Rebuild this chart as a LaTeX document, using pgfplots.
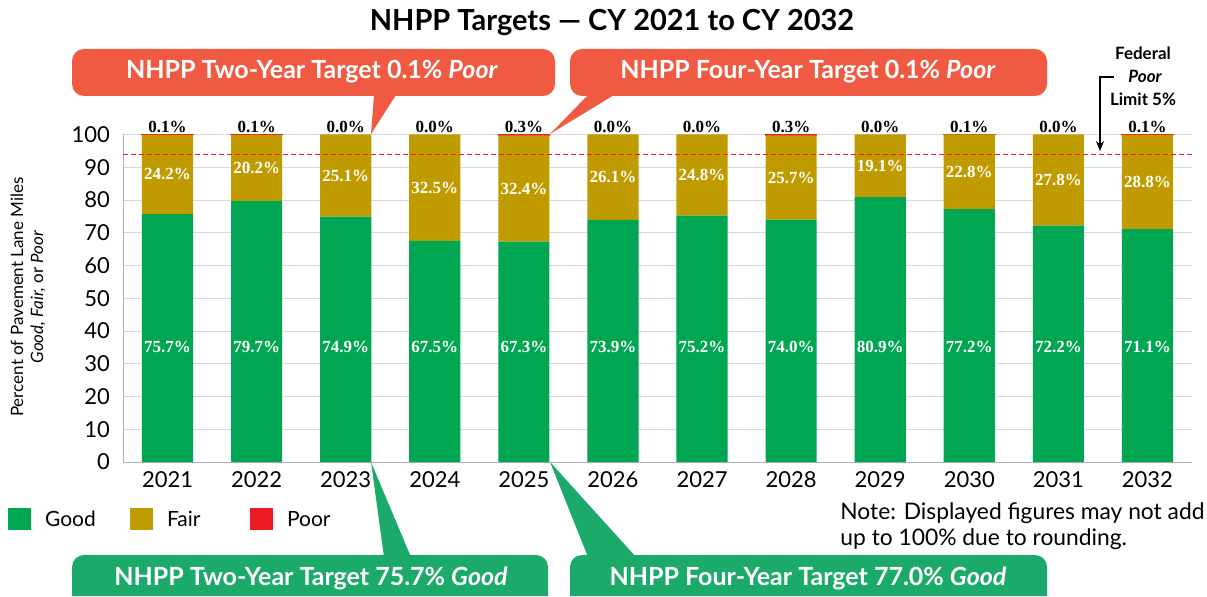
\documentclass[border=0pt]{standalone}
\usepackage{pgfplots}
\pgfplotsset{compat=1.18}
\usepackage{pgfplotstable}
\usepackage{fontspec}
\setmainfont{Lato}
\newfontfamily\labfont{Liberation Serif}
\usetikzlibrary{arrows.meta}
\definecolor{good}{HTML}{00A651}
\definecolor{fair}{HTML}{BF9B00}
\definecolor{poor}{HTML}{ED1C24}
\definecolor{callred}{HTML}{F15A42}
\definecolor{callgreen}{HTML}{1BAA6A}
\pgfplotstableread{
x good fair poor
0 75.7 24.2 0.1
1 79.7 20.2 0.1
2 74.9 25.1 0.0
3 67.5 32.5 0.0
4 67.3 32.4 0.3
5 73.9 26.1 0.0
6 75.2 24.8 0.0
7 74.0 25.7 0.3
8 80.9 19.1 0.0
9 77.2 22.8 0.1
10 72.2 27.8 0.0
11 71.1 28.8 0.1
}\data
\pgfplotsset{common/.style={
  at={(61.5pt,-231pt)}, anchor=south west, scale only axis,
  width=534.5pt, height=163.75pt,
  xmin=-0.5, xmax=11.5, ymin=0, ymax=100, clip=false,
  /pgf/number format/assume math mode=true},
  lab/.style={only marks, mark=none, point meta=explicit,
  nodes near coords={\pgfmathprintnumber[fixed,fixed zerofill,precision=1]{\pgfplotspointmeta}\%}}}
\begin{document}
\begin{tikzpicture}
\begin{scope}[x=0.5pt,y=-0.5pt]
\useasboundingbox (0,0) rectangle (1207,596);
\end{scope}
\begin{axis}[common,
  ybar stacked, bar width=0.575,
  axis x line*=bottom, axis y line*=left,
  axis line style={draw=black!30,-},
  ymajorgrids, grid style={draw=black!15},
  major tick length=0pt,
  ytick={0,10,...,100},
  xtick={0,...,11},
  xticklabels={2021,2022,2023,2024,2025,2026,2027,2028,2029,2030,2031,2032},
  ticklabel style={font=\fontsize{11}{12}\selectfont},
  yticklabel style={xshift=-3pt},
  xticklabel style={yshift=-1pt},
]
\addplot[fill=good, draw=none] table[x=x,y=good] \data;
\addplot[fill=fair, draw=none] table[x=x,y=fair] \data;
\addplot[fill=poor, draw=poor, line width=0.6pt] table[x=x,y=poor] \data;
\end{axis}
\begin{axis}[common, hide axis]
\addplot[lab,
  every node near coord/.append style={anchor=center, text=white, font=\labfont\bfseries\fontsize{8.5}{10}\selectfont}]
  table[x=x, y expr=35, meta=good] \data;
\addplot[lab,
  every node near coord/.append style={anchor=center, text=white, font=\labfont\bfseries\fontsize{8.5}{10}\selectfont}]
  table[x=x, y expr=\thisrow{good}+\thisrow{fair}/2, meta=fair] \data;
\addplot[lab,
  every node near coord/.append style={anchor=south, inner sep=0.6pt, text=black, font=\labfont\bfseries\fontsize{8.5}{9}\selectfont}]
  table[x=x, y expr=\thisrow{good}+\thisrow{fair}+\thisrow{poor}, meta=poor] \data;
\addplot[poor, line width=0.5pt, dash pattern=on 2.5pt off 1.5pt, mark=none] coordinates {(-0.5,94) (11.5,94)};
\end{axis}
\begin{scope}[x=0.5pt,y=-0.5pt]
% title
\node[font=\bfseries\fontsize{14.5}{16}\selectfont] at (612,23) {NHPP Targets — CY 2021 to CY 2032};
% y label
\node[rotate=90, align=center, font=\fontsize{8.5}{10}\selectfont] at (28,297) {Percent of Pavement Lane Miles\\\textit{Good, Fair,} or \textit{Poor}};
% red callouts
\fill[callred, rounded corners=6pt] (72,49) rectangle (555,96);
\fill[callred] (374,95) -- (371,134) -- (396,95) -- cycle;
\node[text=white, font=\bfseries\fontsize{12.5}{14}\selectfont] at (312,72) {NHPP Two-Year Target 0.1\% \textit{Poor}};
\fill[callred, rounded corners=6pt] (570,49) rectangle (1047,96);
\fill[callred] (588,95) -- (550,134) -- (614,95) -- cycle;
\node[text=white, font=\bfseries\fontsize{12.5}{14}\selectfont] at (808,72) {NHPP Four-Year Target 0.1\% \textit{Poor}};
% green callouts
\fill[callgreen] (72,596) [rounded corners=6pt] -- (72,555) -- (548,555) [sharp corners] -- (548,596) -- cycle;
\fill[callgreen] (371,462) -- (384,557) -- (411,557) -- cycle;
\node[text=white, font=\bfseries\fontsize{12.5}{14}\selectfont] at (311,578) {NHPP Two-Year Target 75.7\% \textit{Good}};
\fill[callgreen] (570,596) [rounded corners=6pt] -- (570,555) -- (1047,555) [sharp corners] -- (1047,596) -- cycle;
\fill[callgreen] (550,462) -- (588,557) -- (636,557) -- cycle;
\node[text=white, font=\bfseries\fontsize{12.5}{14}\selectfont] at (808,578) {NHPP Four-Year Target 77.0\% \textit{Good}};
% legend
\fill[good] (8,508) rectangle (31,530);
\node[anchor=west, font=\fontsize{10.5}{12}\selectfont] at (38,519) {Good};
\fill[fair] (130,508) rectangle (153,530);
\node[anchor=west, font=\fontsize{10.5}{12}\selectfont] at (160,519) {Fair};
\fill[poor] (250,508) rectangle (273,530);
\node[anchor=west, font=\fontsize{10.5}{12}\selectfont] at (280,519) {Poor};
% note
\node[anchor=west, align=left, font=\fontsize{11.4}{13}\selectfont, inner sep=0pt] at (840,526) {Note: Displayed figures may not add\\up to 100\% due to rounding.};
% federal limit
\node[font=\bfseries\fontsize{8.5}{10}\selectfont] at (1143,53) {Federal};
\node[font=\bfseries\itshape\fontsize{8.5}{10}\selectfont] at (1145,76) {Poor};
\node[font=\bfseries\fontsize{8.5}{10}\selectfont] at (1143,99) {Limit 5\%};
\draw[line width=0.6pt, -{Stealth[length=5pt,width=4pt]}] (1114,77) -- (1100,77) -- (1100,151);
\end{scope}
\end{tikzpicture}
\end{document}
